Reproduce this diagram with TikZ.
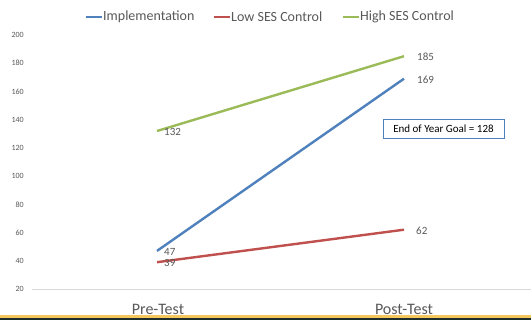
\documentclass[tikz,border=0pt]{standalone}
\usepackage{fontspec}
\setmainfont{Carlito}
\definecolor{impl}{HTML}{4F81BD}
\definecolor{low}{HTML}{C0504D}
\definecolor{high}{HTML}{9BBB59}
\definecolor{txt}{HTML}{595959}
\definecolor{grid}{HTML}{D9D9D9}
\definecolor{gold}{HTML}{F4C85A}
\definecolor{darkbar}{HTML}{1E2B2B}
\begin{document}
\begin{tikzpicture}[x=1pt,y=-1pt,
  series/.style={line width=2.4pt},
  tick/.style={anchor=east,text=txt,font=\fontsize{8}{9}\selectfont,inner sep=0pt},
  dlabel/.style={anchor=west,text=txt,font=\fontsize{11}{12}\selectfont,inner sep=0pt},
  legtext/.style={anchor=west,text=txt,font=\fontsize{14}{16}\selectfont,inner sep=0pt},
  cat/.style={text=txt,font=\fontsize{16}{18}\selectfont,inner sep=0pt},
  pt/.style={inner sep=0pt,minimum size=0pt}]
\useasboundingbox (0,0) rectangle (531,320);
\fill[white] (0,0) rectangle (531,320);
% baseline grid
\draw[grid,line width=0.8pt] (32,289) -- (531,289);
% ticks
\foreach \v [count=\i from 0] in {200,180,160,140,120,100,80,60,40,20}
  \node[tick] (t\v) at (24,{35+28.22*\i}) {\v};
% categories
\node[cat] (pre) at (158,309) {Pre-Test};
\node[cat] (post) at (404,309) {Post-Test};
% points
\coordinate (i1) at (157,250.9);
\coordinate (i2) at (404,78.7);
\coordinate (l1) at (157,262.2);
\coordinate (l2) at (404,229.7);
\coordinate (h1) at (157,131.0);
\coordinate (h2) at (404,56.2);
\draw[series,impl] (i1) -- (i2);
\draw[series,low] (l1) -- (l2);
\draw[series,high] (h1) -- (h2);
% data labels
\node[dlabel] (li1) at (164,251.5) {47};
\node[dlabel] (li2) at (417,80) {169};
\node[dlabel] (ll1) at (164,262.5) {39};
\node[dlabel] (ll2) at (416,230.5) {62};
\node[dlabel] (lh1) at (164,132) {132};
\node[dlabel] (lh2) at (417,57) {185};
% legend
\coordinate (a1) at (86,17); \coordinate (a2) at (102,17);
\coordinate (b1) at (214,17); \coordinate (b2) at (230,17);
\coordinate (c1) at (343,17); \coordinate (c2) at (359,17);
\draw[series,impl] (a1) -- (a2);
\draw[series,low] (b1) -- (b2);
\draw[series,high] (c1) -- (c2);
\node[legtext] (la) at (103,17) {Implementation};
\node[legtext] (lb) at (231,17) {Low SES Control};
\node[legtext] (lc) at (360,17) {High SES Control};
% goal box
\node[draw=impl,line width=0.8pt,fill=white,minimum width=121pt,minimum height=19pt,inner sep=0pt,font=\fontsize{11}{12}\selectfont,text=black] (goal) at (443.5,128.5) {End of Year Goal = 128};
% bottom bars
\fill[gold] (0,315.5) rectangle (531,318);
\fill[darkbar] (0,318) rectangle (531,320);
\end{tikzpicture}
\end{document}
